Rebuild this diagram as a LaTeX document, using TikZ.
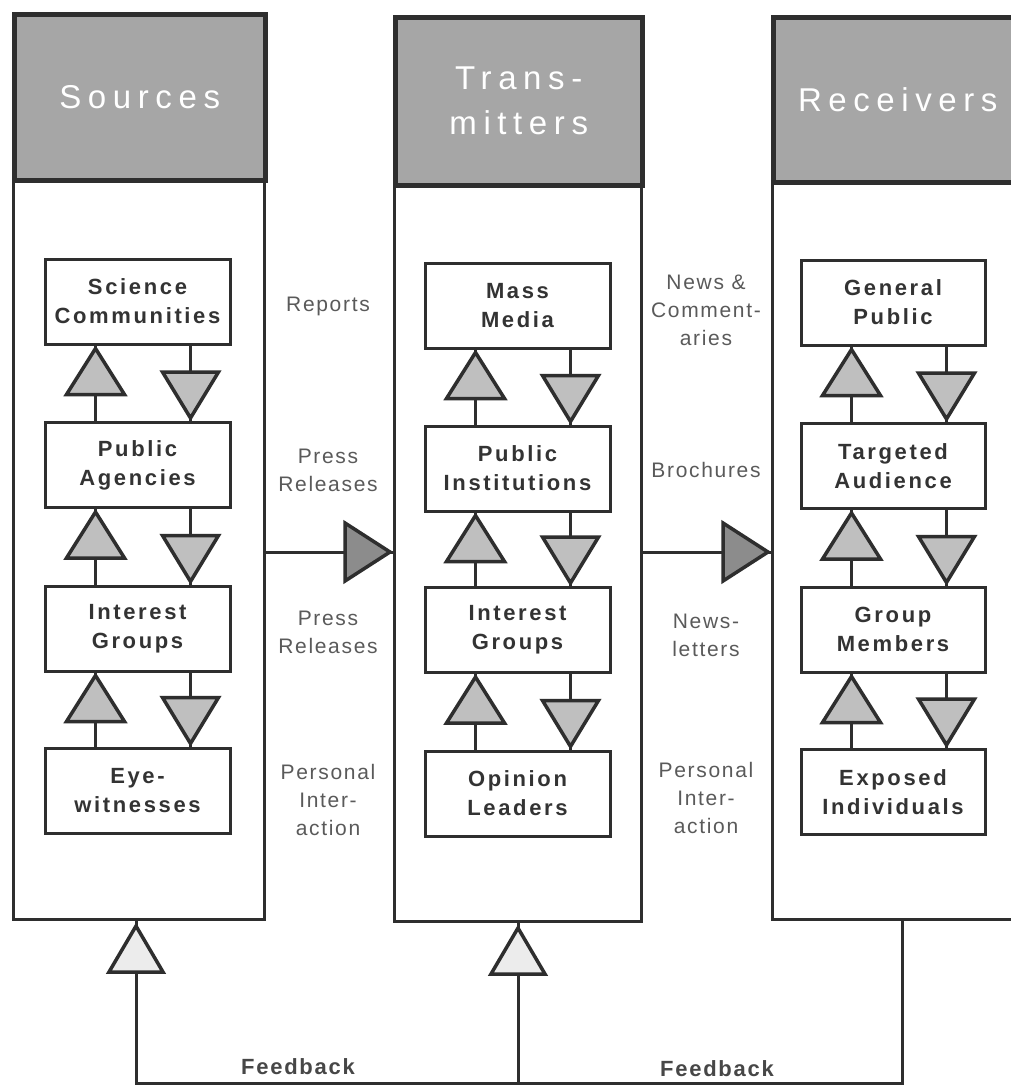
\documentclass[tikz,border=0pt]{standalone}
\usepackage{fontspec}
\setmainfont{Liberation Sans}
\newfontfamily\hdrfont[LetterSpace=20]{Liberation Sans}
\newfontfamily\boxfont[LetterSpace=12]{Liberation Sans}
\newfontfamily\lblfont[LetterSpace=8]{Liberation Sans}
\usetikzlibrary{calc}
\definecolor{hdrgray}{HTML}{A6A6A6}
\definecolor{trigray}{HTML}{BFBFBF}
\definecolor{bigtri}{HTML}{8C8C8C}
\definecolor{fbtri}{HTML}{ECECEC}
\definecolor{linec}{HTML}{2E2E2E}
\definecolor{txtdark}{HTML}{333333}
\definecolor{lblgray}{HTML}{5A5A5A}
\tikzset{
  colbox/.style={draw=linec, line width=3pt, fill=white, inner sep=0pt, anchor=north west},
  hdr/.style={draw=linec, line width=4.5pt, fill=hdrgray, inner sep=0pt, anchor=north west,
    align=center, text=white, font=\hdrfont\fontsize{33}{45}\selectfont},
  ibox/.style={draw=linec, line width=3pt, fill=white, minimum width=185, minimum height=85,
    inner sep=0pt, align=center, text=txtdark, font=\boxfont\bfseries\fontsize{22}{29}\selectfont},
  lbl/.style={align=center, text=lblgray, inner sep=0pt, font=\lblfont\fontsize{21}{28}\selectfont},
  fbl/.style={text=txtdark!90, inner sep=0pt, font=\lblfont\bfseries\fontsize{22}{26}\selectfont},
  tri/.style={draw=linec, line width=3.5pt, fill=trigray, line join=miter},
  bigarrow/.style={draw=linec, line width=3.5pt, fill=bigtri, line join=miter},
  fbarrow/.style={draw=linec, line width=3.5pt, fill=fbtri, line join=miter},
  stem/.style={draw=linec, line width=3pt},
}
\newcommand\linkpair[2]{%
  \draw[stem] ($(#2.north west)+(52,0)$) -- ($(#1.south west)+(52,0)$);
  \draw[tri] ($(#1.south west)+(52,3)$) -- ++(29,46) -- ++(-58,0) -- cycle;
  \draw[stem] ($(#1.south west)+(147,0)$) -- ($(#2.north west)+(147,0)$);
  \draw[tri] ($(#2.north west)+(147,-3)$) -- ++(28,-46) -- ++(-56,0) -- cycle;
}
\begin{document}
\begin{tikzpicture}[x=1pt,y=-1pt]
\clip (0,0) rectangle (1011,1085);
\fill[white] (0,0) rectangle (1011,1085);

% columns
\node[colbox, minimum width=251, minimum height=906] (c1) at (12,12) {};
\node[colbox, minimum width=247, minimum height=905] (c2) at (393,15) {};
\node[colbox, minimum width=249, minimum height=903] (c3) at (771,15) {};

% headers
\node[hdr, minimum width=251, minimum height=166] (h1) at (c1.north west) {\raisebox{-3pt}{Sources}};
\node[hdr, minimum width=247, minimum height=168] (h2) at (c2.north west) {Trans-\\mitters};
\node[hdr, minimum width=249, minimum height=165] (h3) at (c3.north west) {\raisebox{-3pt}{Receivers}};

% sources boxes
\node[ibox] (s1) at (137.5,301.5) {Science\\Communities};
\node[ibox] (s2) at (137.5,465) {Public\\Agencies};
\node[ibox] (s3) at (137.5,628.5) {Interest\\Groups};
\node[ibox] (s4) at (137.5,790.5) {Eye-\\witnesses};

% transmitter boxes
\node[ibox] (m1) at (517.5,305.5) {Mass\\Media};
\node[ibox] (m2) at (517.5,468.5) {Public\\Institutions};
\node[ibox] (m3) at (517.5,630) {Interest\\Groups};
\node[ibox] (m4) at (517.5,793.5) {Opinion\\Leaders};

% receiver boxes
\node[ibox, minimum width=184] (r1) at (893,302.5) {General\\Public};
\node[ibox, minimum width=184] (r2) at (893,466) {Targeted\\Audience};
\node[ibox, minimum width=184] (r3) at (893,629.5) {Group\\Members};
\node[ibox, minimum width=184] (r4) at (893,792) {Exposed\\Individuals};

% vertical links
\linkpair{s1}{s2}\linkpair{s2}{s3}\linkpair{s3}{s4}
\linkpair{m1}{m2}\linkpair{m2}{m3}\linkpair{m3}{m4}
\linkpair{r1}{r2}\linkpair{r2}{r3}\linkpair{r3}{r4}

% labels between sources and transmitters
\node[lbl] (l1) at (328,306) {Reports};
\node[lbl] (l2) at (328,470) {Press\\Releases};
\node[lbl] (l3) at (328,632) {Press\\Releases};
\node[lbl] (l4) at (328,800) {Personal\\Inter-\\action};

% labels between transmitters and receivers
\node[lbl] (k1) at (706,310) {News \&\\Comment-\\aries};
\node[lbl] (k2) at (706,470) {Brochures};
\node[lbl] (k3) at (706,635) {News-\\letters};
\node[lbl] (k4) at (706,798) {Personal\\Inter-\\action};

% horizontal flow arrows
\coordinate (ay) at (0,552);
\draw[stem] (c1.east |- ay) -- (c2.west |- ay);
\draw[bigarrow] ($(c2.west |- ay)+(-3,0)$) -- ++(-45,-29) -- ++(0,58) -- cycle;
\draw[stem] (c2.east |- ay) -- (c3.west |- ay);
\draw[bigarrow] ($(c3.west |- ay)+(-3,0)$) -- ++(-45,-29) -- ++(0,58) -- cycle;

% feedback
\coordinate (fy) at (0,1083);
\coordinate (f1) at ($(c1.south)+(-3,0)$);
\coordinate (f3) at ($(c3.south)+(5,0)$);
\draw[stem] (f3) -- (f3 |- fy) -- (f1 |- fy) -- (f1);
\draw[stem] (c2.south) -- (c2.south |- fy);
\draw[fbarrow] ($(f1)+(0,5)$) -- ++(27,46) -- ++(-54,0) -- cycle;
\draw[fbarrow] ($(c2.south)+(0,5)$) -- ++(27,46) -- ++(-54,0) -- cycle;
\node[fbl] (fb1) at (298,1067) {Feedback};
\node[fbl] (fb2) at (717,1069) {Feedback};
\end{tikzpicture}
\end{document}
